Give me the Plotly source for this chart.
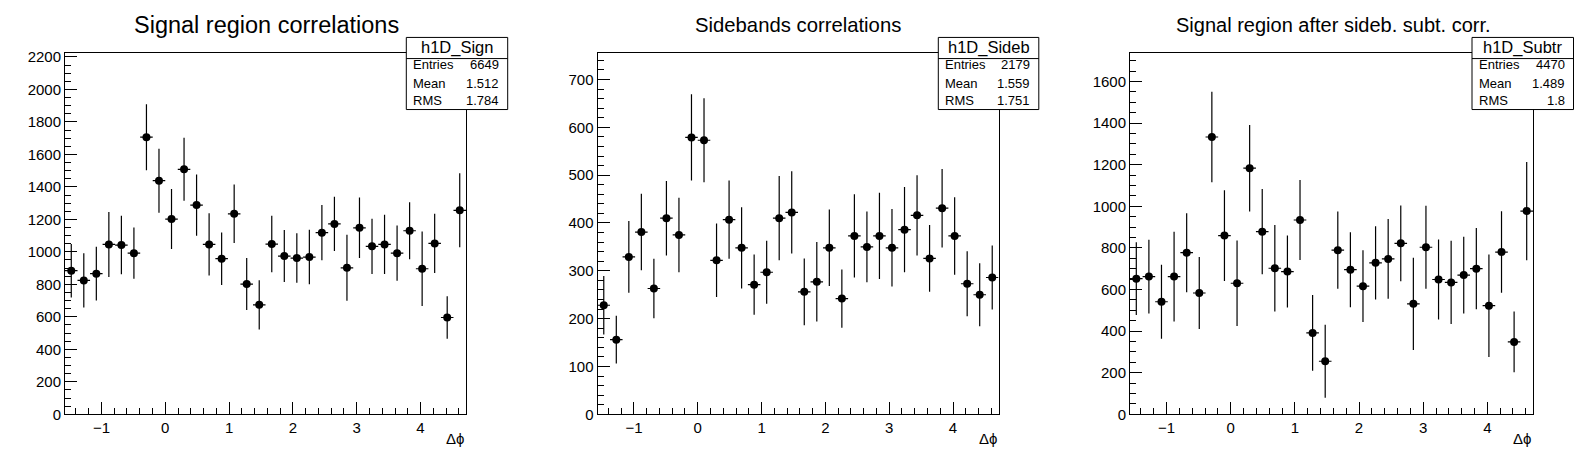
import numpy as np
import plotly.graph_objects as go

W, H = 1596, 472

# ---- data ----
n_bins = 32
x_lo, x_hi = -np.pi / 2, 3 * np.pi / 2

sign_vals = [884, 824, 866, 1046, 1042, 992, 1706, 1438, 1202, 1508, 1288, 1046, 958, 1234, 802, 674,
             1048, 974, 962, 968, 1118, 1172, 902, 1148, 1034, 1046, 992, 1130, 896, 1052, 596, 1256]
sign_errs = [165, 167, 165, 200, 180, 158, 203, 197, 185, 194, 188, 192, 162, 180, 160, 152,
             174, 160, 152, 168, 170, 167, 203, 186, 170, 182, 170, 176, 230, 182, 131, 228]

sideb_vals = [228, 156, 329, 381, 263, 410, 375, 579, 573, 322, 407, 348, 271, 297, 410, 422,
              256, 277, 348, 242, 373, 350, 373, 348, 386, 416, 326, 431, 373, 273, 250, 286]
sideb_errs = [61, 50, 75, 80, 62, 78, 78, 90, 88, 77, 82, 85, 63, 66, 88, 86,
              70, 83, 80, 61, 87, 74, 90, 81, 89, 84, 70, 82, 81, 68, 66, 67]

subtr_vals = [652, 662, 541, 662, 777, 583, 1333, 859, 630, 1183, 878, 702, 686, 934, 391, 255,
              789, 695, 616, 728, 747, 822, 531, 803, 648, 634, 669, 700, 522, 780, 348, 977]
subtr_errs = [175, 177, 178, 216, 190, 173, 217, 218, 205, 208, 205, 208, 173, 192, 182, 175,
              186, 180, 172, 176, 192, 182, 222, 200, 192, 200, 184, 195, 246, 196, 146, 236]

titles = ["Signal region correlations", "Sidebands correlations", "Signal region after sideb. subt. corr."]
hist_names = ["h1D_Sign", "h1D_Sideb", "h1D_Subtr"]
entries = ["6649", "2179", "4470"]
means = ["1.512", "1.559", "1.489"]
rmss = ["1.784", "1.751", "1.8"]
x_title = "Δϕ"

# ---- layout geometry (pixels) ----
panels_x = [(65, 466), (597.5, 998.5), (1130, 1533)]
plot_top, plot_bot = 50, 421
y_max = [2226, 756, 1738]
y_dtick = [200, 100, 200]
y_minor = [50, 20, 50]
title_cx = [266, 798, 1333]
title_size = [23.5, 20.3, 20]
stat_boxes = [(406.3, 507.7), (938.3, 1038.8), (1472, 1573.5)]
box_top, box_div, box_bot = 34.3, 56, 108.3

FONT = "Liberation Sans, Arial, Helvetica, sans-serif"


def fx(x):
    return x / W


def fy(y):
    return 1 - y / H


edges = np.linspace(x_lo, x_hi, n_bins + 1)
centers = 0.5 * (edges[:-1] + edges[1:])
half_w = 0.5 * (edges[1] - edges[0])

fig = go.Figure()
series = [(sign_vals, sign_errs), (sideb_vals, sideb_errs), (subtr_vals, subtr_errs)]
shapes = []
annotations = []

for i, (vals, errs) in enumerate(series):
    ax = "" if i == 0 else str(i + 1)
    fig.add_trace(go.Scatter(
        x=centers, y=vals, mode="markers",
        marker=dict(symbol="circle", size=8, color="black"),
        error_y=dict(type="data", array=errs, visible=True, color="black", thickness=1.2, width=0),
        error_x=dict(type="constant", value=half_w, visible=True, color="black", thickness=1.2, width=0),
        xaxis="x" + ax, yaxis="y" + ax, showlegend=False, hoverinfo="skip",
    ))
    x0, x1 = panels_x[i]
    common = dict(showline=True, linecolor="black", linewidth=1, mirror=True,
                  ticks="inside", tickcolor="black", tickwidth=1, showgrid=False, zeroline=False,
                  tickfont=dict(family=FONT, size=15, color="black"))
    fig.update_layout(**{
        "xaxis" + ax: dict(domain=[fx(x0), fx(x1)], range=[x_lo, x_hi], anchor="y" + ax,
                           dtick=1, tick0=0, ticklen=12,
                           minor=dict(dtick=0.2, tick0=0, ticks="inside", ticklen=6,
                                      tickcolor="black", tickwidth=1, showgrid=False),
                           **common),
        "yaxis" + ax: dict(domain=[fy(plot_bot), fy(plot_top)], range=[0, y_max[i]], anchor="x" + ax,
                           dtick=y_dtick[i], tick0=0, ticklen=12, tickformat="d",
                           minor=dict(dtick=y_minor[i], tick0=0, ticks="inside", ticklen=6,
                                      tickcolor="black", tickwidth=1, showgrid=False),
                           **common),
    })
    # title
    annotations.append(dict(text=titles[i], x=fx(title_cx[i]), y=fy(21.5), xref="paper", yref="paper",
                            xanchor="center", yanchor="middle", showarrow=False,
                            font=dict(family=FONT, size=title_size[i], color="black")))
    # x-axis title
    annotations.append(dict(text=x_title, x=fx(x1), y=fy(446), xref="paper", yref="paper",
                            xanchor="right", yanchor="middle", showarrow=False,
                            font=dict(family=FONT, size=15, color="black")))
    # stats box
    bx0, bx1 = stat_boxes[i]
    shapes.append(dict(type="rect", xref="paper", yref="paper", x0=fx(bx0), x1=fx(bx1),
                       y0=fy(box_bot), y1=fy(box_top), fillcolor="white",
                       line=dict(color="black", width=1), layer="above"))
    shapes.append(dict(type="line", xref="paper", yref="paper", x0=fx(bx0), x1=fx(bx1),
                       y0=fy(box_div), y1=fy(box_div), line=dict(color="black", width=1), layer="above"))
    annotations.append(dict(text=hist_names[i], x=fx((bx0 + bx1) / 2), y=fy(45), xref="paper", yref="paper",
                            xanchor="center", yanchor="middle", showarrow=False,
                            font=dict(family=FONT, size=16.5, color="black")))
    for lab, val, yy in zip(["Entries", "Mean", "RMS"], [entries[i], means[i], rmss[i]], [62.5, 81.3, 98.7]):
        annotations.append(dict(text=lab, x=fx(bx0 + 4.5), y=fy(yy), xref="paper", yref="paper",
                                xanchor="left", yanchor="middle", showarrow=False,
                                font=dict(family=FONT, size=13, color="black")))
        annotations.append(dict(text=val, x=fx(bx1 - 6.5), y=fy(yy), xref="paper", yref="paper",
                                xanchor="right", yanchor="middle", showarrow=False,
                                font=dict(family=FONT, size=13, color="black")))

fig.update_layout(width=W, height=H, autosize=False, margin=dict(l=0, r=0, t=0, b=0),
                  paper_bgcolor="white", plot_bgcolor="white",
                  shapes=shapes, annotations=annotations,
                  font=dict(family=FONT, color="black"))

fig.write_html("out.html", config={"displayModeBar": False},
               post_script="document.body.style.margin='0px';")
